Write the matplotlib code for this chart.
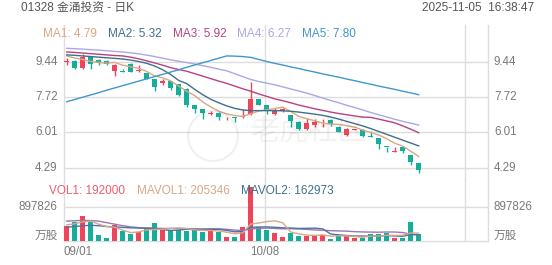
import matplotlib
matplotlib.use("Agg")
import matplotlib.pyplot as plt
from matplotlib.patches import Rectangle, Ellipse
import matplotlib.transforms as mtransforms

plt.rcParams['font.family'] = ['Liberation Sans', 'Noto Sans CJK SC', 'DejaVu Sans']

# ---------------- data ----------------
dates_labels = ["09/01", "10/08"]
label_index = [0, 25]

opens = [9.44, 9.47, 9.12, 9.65, 9.52, 9.46, 9.00, 8.96, 9.35, 8.98,
         8.88, 8.59, 8.40, 8.49, 8.36, 8.13, 7.33, 7.13, 6.93, 6.97,
         6.70, 6.76, 6.75, 6.90, 7.62, 7.33, 6.91, 7.04, 6.85, 6.52,
         6.16, 6.36, 6.51, 6.62, 6.29, 5.87, 6.15, 6.14, 5.81, 5.73,
         5.33, 5.06, 5.32, 4.90, 4.52]
closes = [9.48, 9.12, 9.65, 9.33, 9.42, 9.35, 9.29, 8.94, 8.96, 9.04,
          8.62, 8.20, 8.50, 8.17, 7.81, 7.36, 7.16, 6.97, 6.96, 6.75,
          6.72, 6.74, 6.80, 7.61, 7.36, 7.04, 7.04, 7.13, 6.58, 6.17,
          6.49, 6.52, 6.53, 6.40, 6.05, 6.19, 6.17, 5.83, 5.79, 5.45,
          5.31, 5.08, 5.12, 4.56, 4.19]
highs = [9.62, 9.50, 9.81, 9.68, 9.55, 9.50, 9.32, 9.07, 9.38, 9.26,
         8.90, 8.60, 8.59, 8.52, 8.38, 8.15, 7.35, 7.15, 7.05, 6.99,
         6.78, 6.78, 7.13, 8.46, 7.65, 7.35, 7.20, 7.18, 6.87, 6.55,
         6.71, 6.68, 6.64, 6.68, 6.31, 6.21, 6.19, 6.16, 6.10, 5.75,
         5.33, 5.30, 5.35, 4.92, 4.54]
lows = [9.30, 9.07, 9.10, 9.09, 9.29, 9.30, 8.75, 8.94, 8.92, 8.96,
        8.60, 8.01, 8.33, 8.07, 7.78, 7.26, 6.94, 6.65, 6.85, 6.60,
        6.62, 6.52, 6.72, 6.85, 7.34, 6.90, 6.85, 6.98, 6.27, 6.15,
        6.14, 6.30, 6.28, 6.32, 6.03, 5.85, 6.13, 5.81, 5.79, 5.23,
        5.06, 5.06, 5.00, 4.45, 4.03]
volumes = [390000, 491000, 661000, 509000, 153000, 68000, 424000, 271000, 186000, 237000,
           339000, 475000, 305000, 288000, 288000, 271000, 305000, 237000, 271000, 237000,
           102000, 102000, 356000, 1420000, 373000, 288000, 203000, 102000, 220000, 119000,
           136000, 153000, 170000, 51000, 170000, 119000, 68000, 85000, 186000, 186000,
           220000, 68000, 85000, 491000, 192000]

ma1 = [9.72, 9.62, 9.55, 9.45, 9.40, 9.37, 9.41, 9.27, 9.19, 9.12,
       8.97, 8.75, 8.66, 8.51, 8.26, 8.01, 7.80, 7.49, 7.25, 7.04,
       6.91, 6.83, 6.79, 6.92, 7.05, 7.11, 7.17, 7.24, 7.03, 6.79,
       6.68, 6.58, 6.46, 6.42, 6.40, 6.34, 6.27, 6.13, 6.01, 5.89,
       5.71, 5.49, 5.35, 5.10, 4.85]
ma2 = [9.77, 9.75, 9.72, 9.69, 9.66, 9.63, 9.60, 9.57, 9.52, 9.45,
       9.36, 9.23, 9.05, 8.82, 8.53, 8.38, 8.10, 7.84, 7.62, 7.45,
       7.30, 7.18, 7.10, 7.07, 7.07, 7.07, 7.07, 7.06, 7.04, 7.00,
       6.95, 6.90, 6.84, 6.76, 6.66, 6.55, 6.44, 6.33, 6.20, 6.06,
       5.92, 5.78, 5.64, 5.50, 5.36]
ma3 = [9.91, 9.89, 9.86, 9.83, 9.80, 9.77, 9.74, 9.72, 9.66, 9.58,
       9.48, 9.38, 9.27, 9.15, 9.06, 8.98, 8.86, 8.74, 8.62, 8.50,
       8.39, 8.26, 8.13, 8.01, 7.88, 7.76, 7.64, 7.55, 7.45, 7.34,
       7.25, 7.16, 7.08, 7.00, 6.93, 6.87, 6.81, 6.76, 6.74, 6.66,
       6.57, 6.48, 6.33, 6.17, 6.00]
ma4 = [10.09, 10.07, 10.05, 10.02, 10.00, 9.97, 9.94, 9.91, 9.87, 9.82,
       9.76, 9.69, 9.61, 9.53, 9.46, 9.40, 9.33, 9.25, 9.17, 9.08,
       9.00, 8.86, 8.72, 8.58, 8.48, 8.40, 8.32, 8.22, 8.12, 8.02,
       7.92, 7.80, 7.68, 7.56, 7.45, 7.33, 7.22, 7.10, 6.98, 6.87,
       6.76, 6.65, 6.55, 6.46, 6.37]
ma5 = [7.50, 7.61, 7.72, 7.83, 7.94, 8.06, 8.17, 8.28, 8.39, 8.50,
       8.61, 8.72, 8.83, 8.94, 9.05, 9.17, 9.28, 9.39, 9.50, 9.61,
       9.72, 9.71, 9.69, 9.65, 9.55, 9.45, 9.36, 9.28, 9.19, 9.11,
       9.02, 8.94, 8.85, 8.77, 8.69, 8.60, 8.52, 8.43, 8.35, 8.26,
       8.18, 8.10, 8.01, 7.93, 7.84]

mavol1 = [420000, 450000, 500000, 520000, 441000, 376000, 363000, 285000, 220000, 237000,
          291000, 302000, 308000, 329000, 339000, 325000, 291000, 278000, 274000, 264000,
          230000, 190000, 214000, 443000, 471000, 508000, 528000, 477000, 237000, 186000,
          156000, 146000, 160000, 126000, 136000, 133000, 116000, 99000, 126000, 129000,
          149000, 149000, 149000, 210000, 205346]
mavol2 = [360000, 380000, 400000, 410000, 400000, 380000, 370000, 355000, 345000, 339000,
          334000, 332000, 297000, 275000, 288000, 308000, 297000, 293000, 302000, 302000,
          278000, 241000, 246000, 359000, 367000, 369000, 359000, 345000, 340000, 329000,
          332000, 337000, 318000, 182000, 161000, 144000, 131000, 129000, 126000, 132000,
          141000, 132000, 124000, 168000, 162973]
mavol3 = [520000, 530000, 540000, 535000, 520000, 480000, 440000, 400000, 370000, 350000,
          340000, 335000, 330000, 330000, 330000, 325000, 320000, 320000, 320000, 320000,
          306000, 286000, 271000, 317000, 328000, 339000, 328000, 319000, 321000, 315000,
          305000, 289000, 282000, 270000, 264000, 257000, 245000, 237000, 233000, 230000,
          236000, 235000, 221000, 175000, 166000]

price_ticks = [9.44, 7.72, 6.01, 4.29]
vol_tick = 897826

legend_price = [("MA1: 4.79", "#d6a887"), ("MA2: 5.32", "#3f6f8c"), ("MA3: 5.92", "#b9417f"),
                ("MA4: 6.27", "#a8a8e6"), ("MA5: 7.80", "#3f97cc")]
legend_vol = [("VOL1: 192000", "#f0596b"), ("MAVOL1: 205346", "#d6a887"), ("MAVOL2: 162973", "#3f6f8c")]

# ---------------- style ----------------
RED = "#f0445b"
GREEN = "#15ae9b"
GRID = "#dddddd"
TXT = "#7a7a7a"

W, H = 552, 265
fig = plt.figure(figsize=(W / 100, H / 100), dpi=100)

def fx(px):
    return px / W

def fy(py):
    return 1 - py / H

left, right = 64, 488
ax = fig.add_axes([fx(left), fy(180), fx(right - left), (180 - 25) / H])
axv = fig.add_axes([fx(left), fy(241), fx(right - left), (241 - 180) / H])

xmin, xmax = -0.3375, 52.66
ppu = 20.64
ax.set_xlim(xmin, xmax)
ax.set_ylim(4.29 - (180 - 168) / ppu, 4.29 + (168 - 25) / ppu)
vmax = vol_tick * 61 / 34.3
axv.set_xlim(xmin, xmax)
axv.set_ylim(0, vmax)

for a in (ax, axv):
    a.set_axis_off()
    a.patch.set_alpha(0)

# grid
for t in price_ticks:
    ax.axhline(t, color=GRID, lw=1.0, zorder=0)
axv.axhline(vol_tick, color=GRID, lw=1.0, zorder=0)
axv.axhline(0, color=GRID, lw=1.0, zorder=0, clip_on=False)
for gx in [xmin + 0.02, 24.8, 49.8, xmax - 0.02]:
    ax.axvline(gx, color=GRID, lw=1.0, zorder=0, clip_on=False)
    axv.axvline(gx, color=GRID, lw=1.0, zorder=0, clip_on=False)

# watermark
fig.text(fx(308), fy(132), "老虎社区", fontsize=21, color="#000000", alpha=0.05,
         ha="center", va="center", fontstyle="italic", zorder=0)
fig.patches.append(Ellipse((fx(213), fy(136)), fx(50), 50 / H, transform=fig.transFigure,
                           fill=False, ec="#000000", alpha=0.06, lw=1.5, zorder=0))

# candles
bw = 0.68
for i in range(len(opens)):
    o, c, h, l = opens[i], closes[i], highs[i], lows[i]
    col = RED if c >= o else GREEN
    ax.vlines(i, l, h, color=col, lw=1.0, zorder=3)
    lo, hi = min(o, c), max(o, c)
    if hi - lo < 0.03:
        lo, hi = (o + c) / 2 - 0.02, (o + c) / 2 + 0.02
    ax.add_patch(Rectangle((i - bw / 2, lo), bw, hi - lo, color=col, lw=0, zorder=4))
    axv.add_patch(Rectangle((i - bw / 2, 0), bw, volumes[i], color=col, lw=0, zorder=3, clip_on=False))

xs = list(range(len(opens)))
for vals, (_, colr) in zip([ma1, ma2, ma3, ma4, ma5], legend_price):
    ax.plot(xs, vals, color=colr, lw=1.0, zorder=5)

axv.plot(xs, mavol3, color="#9a78b0", lw=1.0, zorder=4)
axv.plot(xs, mavol2, color="#4f73a0", lw=1.0, zorder=4)
axv.plot(xs, mavol1, color="#d6a887", lw=1.0, zorder=4)

# tick labels
fs = 8.4
tl = mtransforms.blended_transform_factory(fig.transFigure, ax.transData)
for t in price_ticks:
    fig.text(fx(57.5), 0, f"{t:.2f}", transform=tl, ha="right", va="center", fontsize=fs, color=TXT) if False else None
    ax.text(fx(57.5), t, f"{t:.2f}", transform=tl, ha="right", va="center", fontsize=fs, color=TXT)
    ax.text(fx(494), t, f"{t:.2f}", transform=tl, ha="left", va="center", fontsize=fs, color=TXT)
tlv = mtransforms.blended_transform_factory(fig.transFigure, axv.transData)
axv.text(fx(57.5), vol_tick, f"{vol_tick}", transform=tlv, ha="right", va="center", fontsize=fs, color=TXT)
axv.text(fx(494), vol_tick, f"{vol_tick}", transform=tlv, ha="left", va="center", fontsize=fs, color=TXT)
fig.text(fx(57.5), fy(236), "万股", ha="right", va="center", fontsize=fs, color=TXT)
fig.text(fx(494), fy(236), "万股", ha="left", va="center", fontsize=fs, color=TXT)

# x labels
txv = mtransforms.blended_transform_factory(axv.transData, fig.transFigure)
axv.text(xmin, fy(252), dates_labels[0], transform=txv, ha="left", va="center", fontsize=fs, color=TXT)
axv.text(label_index[1] - 0.2, fy(252), dates_labels[1], transform=txv, ha="center", va="center", fontsize=fs, color=TXT)

# header
fig.text(fx(21), fy(8), "01328 金涌投资 - 日K", ha="left", va="center", fontsize=8.5, color="#555555")
fig.text(fx(534), fy(8), "2025-11-05  16:38:47", ha="right", va="center", fontsize=8.5, color="#555555")

for (txt, colr), px in zip(legend_price, [43, 108, 173, 237, 302]):
    fig.text(fx(px), fy(34), txt, ha="left", va="center", fontsize=8.5, color=colr)
for (txt, colr), px in zip(legend_vol, [49, 137, 241]):
    fig.text(fx(px), fy(191), txt, ha="left", va="center", fontsize=8.5, color=colr)

fig.savefig("out.png", dpi=100, facecolor="white")
